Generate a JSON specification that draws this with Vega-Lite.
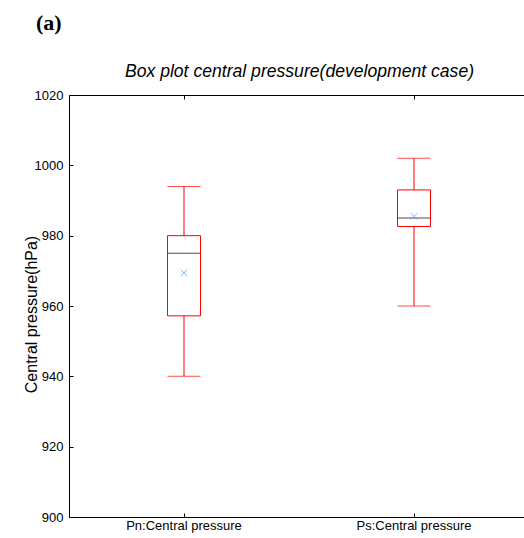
{
  "$schema": "https://vega.github.io/schema/vega-lite/v6.json",
  "autosize": "none",
  "padding": {"left": 69, "top": 95, "right": 0, "bottom": 21},
  "width": 455,
  "height": 422,
  "background": "white",
  "view": {"stroke": null, "strokeWidth": 0},
  "title": {
    "text": "(a)",
    "anchor": "start",
    "frame": "group",
    "font": "Liberation Serif",
    "fontSize": 22,
    "fontWeight": "bold",
    "color": "black",
    "dx": -33,
    "offset": 28
  },
  "config": {
    "view": {"stroke": null, "strokeWidth": 0},
    "axis": {
      "grid": false,
      "domain": true,
      "domainColor": "black",
      "domainWidth": 1,
      "labelFont": "Liberation Sans",
      "labelFontSize": 13,
      "labelColor": "black",
      "tickColor": "black",
      "titleColor": "black"
    }
  },
  "data": {
    "values": [
      {"group": "Pn:Central pressure", "lower": 940, "q1": 957.2, "median": 975, "q3": 980, "upper": 994, "mean": 969.4},
      {"group": "Ps:Central pressure", "lower": 960, "q1": 982.6, "median": 985, "q3": 993, "upper": 1002, "mean": 985.5}
    ]
  },
  "encoding": {
    "x": {
      "field": "group",
      "type": "nominal",
      "sort": null,
      "scale": {"range": [0, 460], "paddingInner": 0, "paddingOuter": 0}
    }
  },
  "resolve": {"axis": {"x": "independent"}},
  "layer": [
    {
      "mark": {"type": "rule", "color": "#ff0000", "strokeWidth": 1},
      "encoding": {
        "x": {
          "field": "group", "type": "nominal", "sort": null,
          "axis": {"orient": "bottom", "title": null, "labelAngle": 0, "tickSize": -4, "labelPadding": 6, "labelFontSize": 13}
        },
        "y": {
          "field": "lower", "type": "quantitative",
          "scale": {"domain": [900, 1020], "nice": false, "zero": false},
          "axis": {
            "values": [900, 920, 940, 960, 980, 1000, 1020],
            "format": "d",
            "tickSize": -4,
            "labelPadding": 10,
            "title": "Central pressure(hPa)",
            "titleFont": "Liberation Sans",
            "titleFontSize": 16,
            "titleFontWeight": "normal",
            "titleBaseline": "alphabetic",
            "titleX": -33,
            "titleY": 219
          }
        },
        "y2": {"field": "upper"}
      }
    },
    {
      "mark": {"type": "bar", "size": 33, "fill": "white", "stroke": "#ff0000", "strokeWidth": 1},
      "encoding": {
        "x": {
          "field": "group", "type": "nominal", "sort": null,
          "axis": {"orient": "top", "labels": false, "tickSize": -4,
            "title": "Box plot central pressure(development case)",
            "titleFont": "Liberation Sans",
            "titleFontSize": 17.6,
            "titleFontStyle": "italic",
            "titleFontWeight": "normal",
            "titlePadding": 14}
        },
        "y": {"field": "q1", "type": "quantitative"},
        "y2": {"field": "q3"}
      }
    },
    {
      "mark": {"type": "tick", "color": "#ff0000", "size": 33, "thickness": 1},
      "encoding": {
        "x": {"field": "group", "type": "nominal", "sort": null, "axis": null},
        "y": {"field": "lower", "type": "quantitative"}
      }
    },
    {
      "mark": {"type": "tick", "color": "#ff0000", "size": 33, "thickness": 1},
      "encoding": {
        "x": {"field": "group", "type": "nominal", "sort": null, "axis": null},
        "y": {"field": "upper", "type": "quantitative"}
      }
    },
    {
      "mark": {"type": "tick", "color": "black", "size": 33, "thickness": 1},
      "encoding": {
        "x": {"field": "group", "type": "nominal", "sort": null, "axis": null},
        "y": {"field": "median", "type": "quantitative"}
      }
    },
    {
      "mark": {"type": "point", "shape": "M-1,-1L1,1M-1,1L1,-1", "filled": false, "size": 45, "strokeWidth": 1, "color": "#4d9bff"},
      "encoding": {
        "x": {"field": "group", "type": "nominal", "sort": null, "axis": null},
        "y": {"field": "mean", "type": "quantitative"}
      }
    }
  ]
}
